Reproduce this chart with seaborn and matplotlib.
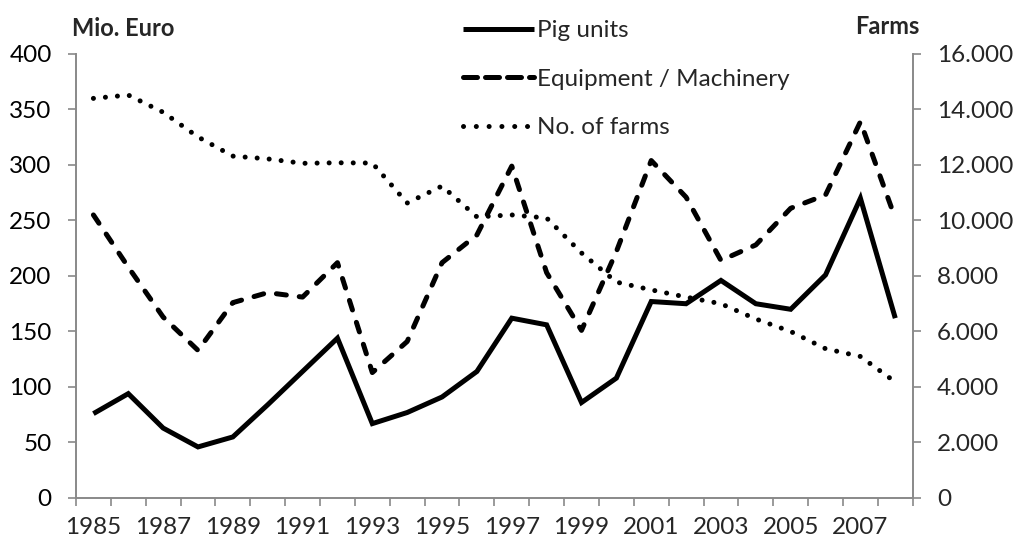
import numpy as np
import pandas as pd
import seaborn as sns
import matplotlib
matplotlib.use("Agg")
import matplotlib.pyplot as plt
from matplotlib.ticker import FuncFormatter
from matplotlib.lines import Line2D

years = list(range(1985, 2009))
pig_units = [76, 94, 63, 46, 55, 84, 114, 144, 67, 77, 91, 114, 162, 156, 86, 108,
             177, 175, 196, 175, 170, 201, 270, 162]
equipment = [255, 208, 163, 133, 176, 185, 181, 212, 113, 141, 212, 237, 299, 203, 151, 222,
             304, 271, 214, 228, 261, 273, 339, 252]
farms = [14400, 14520, 13900, 13010, 12320, 12220, 12060, 12080, 12070, 10630, 11240, 10130,
         10200, 10090, 8830, 7780, 7500, 7240, 7000, 6450, 6000, 5380, 5100, 4180]

df = pd.DataFrame({"year": years, "pig": pig_units, "equip": equipment, "farms": farms})

sns.set_theme(style="white")
plt.rcParams["font.family"] = ["Lato", "DejaVu Sans"]

fig = plt.figure(figsize=(10.13, 5.42), dpi=100)
ax = fig.add_axes([0.075, 0.0812, 0.826, 0.8192])
ax2 = ax.twinx()

lw = 3.6
dash_plot = (0, (2.0, 2.6))
dot_style = (0, (0.01, 2.4))
sns.lineplot(data=df, x="year", y="pig", ax=ax, color="black", lw=lw,
             solid_capstyle="butt", solid_joinstyle="miter")
sns.lineplot(data=df, x="year", y="equip", ax=ax, color="black", lw=lw)
ax.lines[-1].set_linestyle(dash_plot)
ax.lines[-1].set_dash_capstyle("round")
sns.lineplot(data=df, x="year", y="farms", ax=ax2, color="black", lw=lw)
ax2.lines[-1].set_linestyle(dot_style)
ax2.lines[-1].set_dash_capstyle("round")

ax.set_xlim(1984.5, 2008.5)
ax.set_ylim(0, 400)
ax2.set_ylim(0, 16000)
ax.set_yticks(np.arange(0, 401, 50))
ax2.set_yticks(np.arange(0, 16001, 2000))
ax2.yaxis.set_major_formatter(FuncFormatter(lambda v, p: f"{int(v):,}".replace(",", ".")))

ax.set_xticks(np.arange(1984.5, 2009, 1))
ax.set_xticklabels([])
ax.set_xticks(years[::2], minor=True)
ax.set_xticklabels([str(y) for y in years[::2]], minor=True)

grey = "#898989"
for a in (ax, ax2):
    for s in a.spines.values():
        s.set_visible(False)
    a.set_xlabel("")
    a.set_ylabel("")
ax.spines["left"].set_visible(True)
ax.spines["bottom"].set_visible(True)
ax2.spines["right"].set_visible(True)
for s in (ax.spines["left"], ax.spines["bottom"], ax2.spines["right"]):
    s.set_color(grey)
    s.set_linewidth(1.4)

fs = 17.5
ax.tick_params(axis="y", which="major", direction="out", length=5.5, width=1.2, color=grey,
               labelsize=fs, pad=12, left=True, labelcolor="black")
ax.tick_params(axis="x", which="major", direction="out", length=6, width=1.2, color=grey,
               bottom=True)
ax.tick_params(axis="x", which="minor", length=0, labelsize=fs, pad=14, bottom=True)
ax2.tick_params(axis="y", direction="out", length=5.5, width=1.2, color=grey,
                labelsize=fs, pad=12, right=True)

fig.text(0.071, 0.948, "Mio. Euro", fontsize=17, fontweight="bold", ha="left", va="center")
fig.text(0.908, 0.951, "Farms", fontsize=17, fontweight="bold", ha="right", va="center")

handles = [
    Line2D([], [], color="black", lw=lw, solid_capstyle="butt"),
    Line2D([], [], color="black", lw=lw, linestyle=(0, (2.8, 1.6)), dash_capstyle="round"),
    Line2D([], [], color="black", lw=lw, linestyle=(0, (0.01, 2.55)), dash_capstyle="round"),
]
labels = ["Pig units", "Equipment / Machinery", "No. of farms"]
leg = fig.legend(handles, labels, loc="upper left", bbox_to_anchor=(0.443, 0.99),
                 frameon=False, fontsize=fs, handlelength=2.9, handletextpad=0.15,
                 labelspacing=1.14, borderaxespad=0.2)

fig.savefig("out.png", dpi=100)
